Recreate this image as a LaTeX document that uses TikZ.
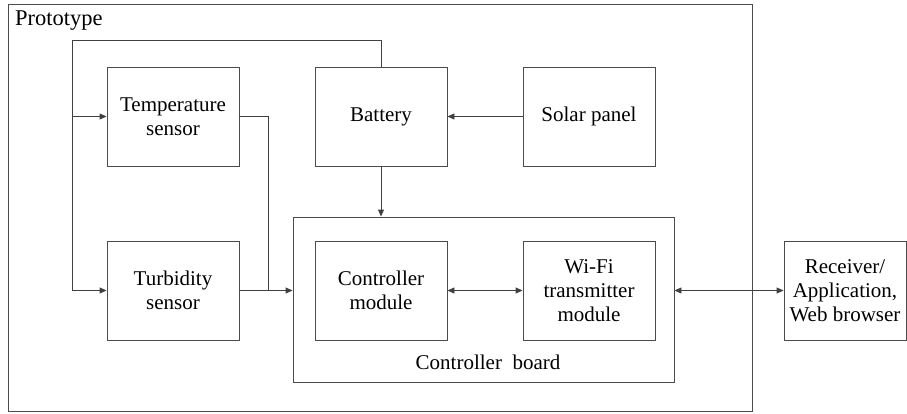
\documentclass[tikz,border=0pt]{standalone}
\usepackage{fontspec}
\setmainfont{Liberation Serif}
\usetikzlibrary{arrows.meta}
\begin{document}
\begin{tikzpicture}[x=1pt,y=-1pt,
  blk/.style={draw=black!70,line width=0.9pt,minimum width=132pt,minimum height=99pt,inner sep=0pt,align=center,font=\fontsize{21}{24}\selectfont},
  arr/.style={draw=black!75,line width=0.9pt,-{Triangle[length=7pt,width=6pt]}},
  arrb/.style={draw=black!75,line width=0.9pt,{Triangle[length=7pt,width=6pt]}-{Triangle[length=7pt,width=6pt]}},
  ln/.style={draw=black!75,line width=0.9pt}]
\useasboundingbox (0,0) rectangle (907,413);
\node[draw=black!70,line width=0.9pt,minimum width=744pt,minimum height=407pt,inner sep=0pt] (proto) at (380,207.5) {};
\node[anchor=west,inner sep=0pt,font=\fontsize{22.5}{24}\selectfont] (plabel) at (15,21) {Prototype};
\node[draw=black!70,line width=0.9pt,minimum width=381pt,minimum height=165pt,inner sep=0pt] (board) at (483.5,299.5) {};
\node[font=\fontsize{21}{24}\selectfont] (blabel) at (488,362) {Controller\ \ board};
\node[blk] (temp) at (173,116.5) {Temperature\\sensor};
\node[blk] (bat) at (381,116.5) {Battery};
\node[blk] (solar) at (589,116.5) {Solar panel};
\node[blk] (turb) at (173,290.5) {Turbidity\\sensor};
\node[blk] (cm) at (381,290.5) {Controller\\module};
\node[blk] (wifi) at (589,290.5) {Wi-Fi\\transmitter\\module};
\node[blk,minimum width=122pt] (recv) at (845,290.5) {Receiver/\\Application,\\Web browser};
\coordinate (top) at (381,40);
\coordinate (left) at (72,40);
\coordinate (junc) at (268,290.5);
\draw[arr] (bat.north) -- (top) -- (left) |- (turb.west);
\draw[arr] (temp.west -| left) -- (temp.west);
\draw[ln] (temp.east) -| (junc);
\draw[arr] (turb.east) -- (board.west |- turb.east);
\draw[arr] (bat.south) -- (board.north -| bat.south);
\draw[arr] (solar.west) -- (bat.east);
\draw[arrb] (cm.east) -- (wifi.west);
\draw[arrb] (board.east |- wifi.east) -- (recv.west);
\end{tikzpicture}
\end{document}
